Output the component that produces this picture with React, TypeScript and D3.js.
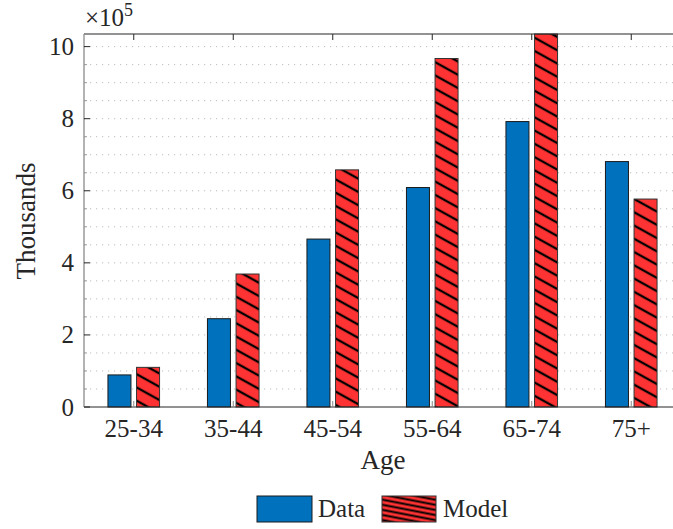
import React, { useEffect, useRef } from 'react';
import * as d3 from 'd3';

const categories = ['25-34', '35-44', '45-54', '55-64', '65-74', '75+'];
const dataValues = [0.89, 2.45, 4.66, 6.09, 7.92, 6.81];
const modelValues = [1.1, 3.69, 6.58, 9.67, 10.45, 5.77];
const yTicks = [0, 2, 4, 6, 8, 10];

const width = 673;
const height = 529;
const font = '"Liberation Serif", "DejaVu Serif", serif';

const App = () => {
  const svgRef = useRef<SVGSVGElement>(null);

  useEffect(() => {
    const svg = d3.select(svgRef.current);
    svg.selectAll('*').remove();

    const left = 84, top = 34, bottom = 407, right = 681;

    const x = d3.scaleLinear().domain([0.5, 6.5]).range([left, right]);
    const y = d3.scaleLinear().domain([0, 10.35]).range([bottom, top]);

    const defs = svg.append('defs');
    const hatch = defs.append('pattern')
      .attr('id', 'hatch')
      .attr('patternUnits', 'userSpaceOnUse')
      .attr('width', 12).attr('height', 11.6)
      .attr('patternTransform', 'rotate(29)');
    hatch.append('rect').attr('width', 12).attr('height', 11.6).attr('fill', '#ff3333');
    hatch.append('line').attr('x1', 0).attr('x2', 12).attr('y1', 5.8).attr('y2', 5.8)
      .attr('stroke', '#000').attr('stroke-width', 2.3);

    const hatchLeg = defs.append('pattern')
      .attr('id', 'hatchLeg')
      .attr('patternUnits', 'userSpaceOnUse')
      .attr('width', 10).attr('height', 5)
      .attr('patternTransform', 'rotate(11)');
    hatchLeg.append('rect').attr('width', 10).attr('height', 5).attr('fill', '#ff3333');
    hatchLeg.append('line').attr('x1', 0).attr('x2', 10).attr('y1', 2.5).attr('y2', 2.5)
      .attr('stroke', '#000').attr('stroke-width', 2);

    // dotted grid every 0.5
    const gridVals = d3.range(0.5, 10.35, 0.5);
    svg.append('g').selectAll('line').data(gridVals).enter().append('line')
      .attr('x1', left).attr('x2', width)
      .attr('y1', d => y(d)).attr('y2', d => y(d))
      .attr('stroke', '#bdbdbd').attr('stroke-width', 1)
      .attr('stroke-dasharray', '1.2,4.8');

    const bw = 23, off = 14.3;
    svg.append('g').selectAll('rect').data(dataValues).enter().append('rect')
      .attr('x', (d, i) => x(i + 1) - off - bw / 2)
      .attr('y', d => y(d))
      .attr('width', bw)
      .attr('height', d => bottom - y(d))
      .attr('fill', '#0072bd').attr('stroke', '#1a1a1a').attr('stroke-width', 1);

    svg.append('g').selectAll('rect').data(modelValues).enter().append('rect')
      .attr('x', (d, i) => x(i + 1) + off - bw / 2)
      .attr('y', d => Math.max(y(d), top))
      .attr('width', bw)
      .attr('height', d => bottom - Math.max(y(d), top))
      .attr('fill', 'url(#hatch)').attr('stroke', '#333').attr('stroke-width', 1);

    // axis lines
    svg.append('line').attr('x1', left).attr('x2', width).attr('y1', top).attr('y2', top)
      .attr('stroke', '#262626').attr('stroke-width', 1.2);
    svg.append('line').attr('x1', left).attr('x2', width).attr('y1', bottom).attr('y2', bottom)
      .attr('stroke', '#262626').attr('stroke-width', 1.2);
    svg.append('line').attr('x1', left).attr('x2', left).attr('y1', top).attr('y2', bottom)
      .attr('stroke', '#808080').attr('stroke-width', 1.2);

    // y ticks
    svg.append('g').selectAll('line').data(gridVals.filter(v => v % 2 !== 0)).enter().append('line')
      .attr('x1', left).attr('x2', left + 3)
      .attr('y1', d => y(d)).attr('y2', d => y(d))
      .attr('stroke', '#999').attr('stroke-width', 1);
    svg.append('g').selectAll('line').data(yTicks).enter().append('line')
      .attr('x1', left).attr('x2', left + 6)
      .attr('y1', d => y(d)).attr('y2', d => y(d))
      .attr('stroke', '#262626').attr('stroke-width', 1);
    svg.append('g').selectAll('text').data(yTicks).enter().append('text')
      .attr('x', left - 10).attr('y', d => y(d) + 8.5)
      .attr('text-anchor', 'end')
      .attr('font-family', font).attr('font-size', 25).attr('fill', '#262626')
      .text(d => d);

    // x ticks
    const xIdx = categories.map((c, i) => i + 1);
    svg.append('g').selectAll('line').data(xIdx).enter().append('line')
      .attr('x1', d => x(d)).attr('x2', d => x(d))
      .attr('y1', top).attr('y2', top + 6)
      .attr('stroke', '#262626').attr('stroke-width', 1);
    svg.append('g').selectAll('line').data(xIdx).enter().append('line')
      .attr('x1', d => x(d)).attr('x2', d => x(d))
      .attr('y1', bottom).attr('y2', bottom - 6)
      .attr('stroke', '#888').attr('stroke-width', 1);
    svg.append('g').selectAll('text').data(categories).enter().append('text')
      .attr('x', (d, i) => x(i + 1)).attr('y', 437)
      .attr('text-anchor', 'middle')
      .attr('font-family', font).attr('font-size', 25).attr('fill', '#262626')
      .text(d => d);

    // exponent
    const ex = svg.append('text').attr('x', 85).attr('y', 26)
      .attr('font-family', font).attr('font-size', 25).attr('fill', '#262626');
    ex.append('tspan').text('×10');
    ex.append('tspan').attr('dy', -10).attr('font-size', 18).text('5');

    // labels
    svg.append('text').attr('x', 383).attr('y', 469).attr('text-anchor', 'middle')
      .attr('font-family', font).attr('font-size', 27).attr('fill', '#262626').text('Age');
    svg.append('text').attr('transform', 'translate(35,221) rotate(-90)')
      .attr('text-anchor', 'middle')
      .attr('font-family', font).attr('font-size', 27).attr('fill', '#262626').text('Thousands');

    // legend
    svg.append('rect').attr('x', 257).attr('y', 496).attr('width', 55).attr('height', 26)
      .attr('fill', '#0072bd').attr('stroke', '#1a1a1a').attr('stroke-width', 1);
    svg.append('text').attr('x', 318).attr('y', 517)
      .attr('font-family', font).attr('font-size', 25).attr('fill', '#262626').text('Data');
    svg.append('rect').attr('x', 382).attr('y', 496).attr('width', 54).attr('height', 26)
      .attr('fill', 'url(#hatchLeg)').attr('stroke', '#333').attr('stroke-width', 1);
    svg.append('text').attr('x', 443).attr('y', 517)
      .attr('font-family', font).attr('font-size', 25).attr('fill', '#262626').text('Model');
  }, []);

  return (
    <svg ref={svgRef} width={width} height={height}
      style={{ position: 'absolute', left: 0, top: 0, background: '#fff' }} />
  );
};

export default App;
